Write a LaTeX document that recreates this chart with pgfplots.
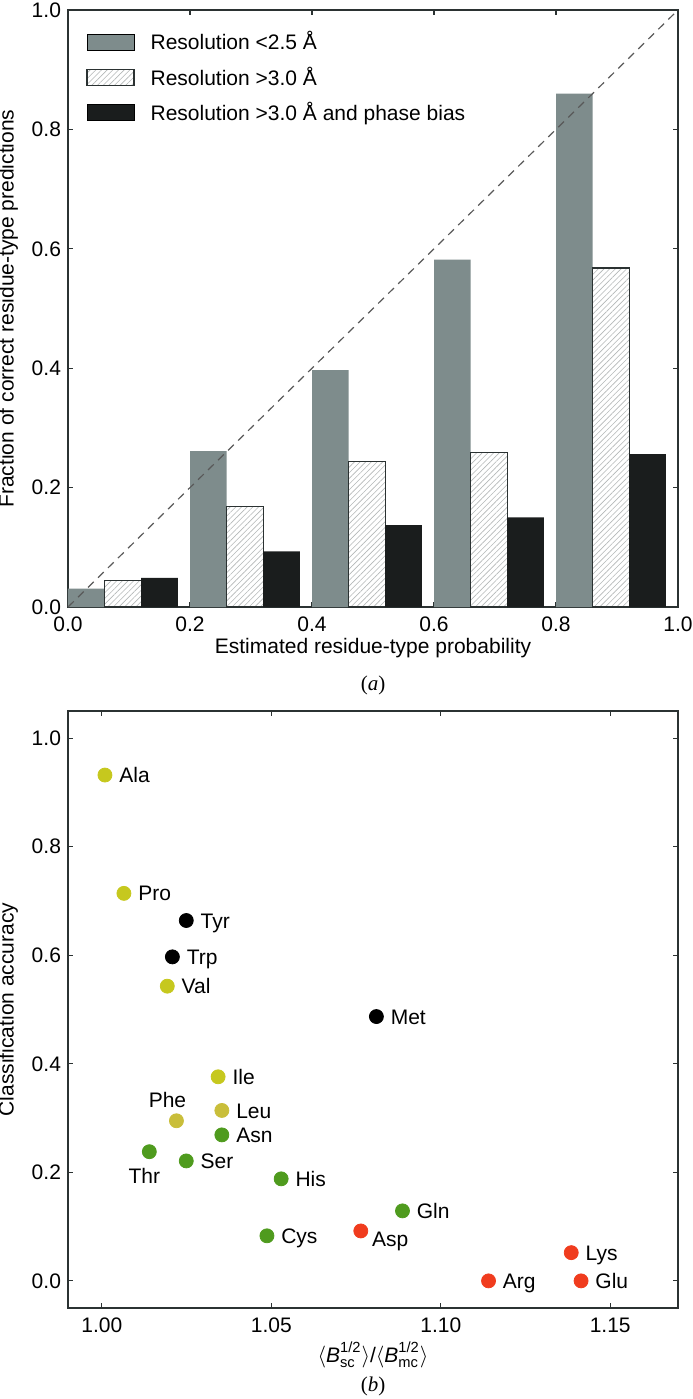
\documentclass[border=0pt]{standalone}
\usepackage{amsmath}
\usepackage{fontspec}
\setmainfont{Liberation Sans}
\newfontfamily\capfont{Liberation Serif}
\usepackage{pgfplots}
\pgfplotsset{compat=1.18}
\usetikzlibrary{patterns.meta}

\definecolor{axisc}{HTML}{2B3232}
\definecolor{barg}{HTML}{7E8C8C}
\definecolor{bark}{HTML}{1A1D1D}
\definecolor{hatch}{HTML}{B4B8B8}
\definecolor{yel}{HTML}{C6C81E}
\definecolor{yel2}{HTML}{C9BE3A}
\definecolor{grn}{HTML}{4F9B1E}
\definecolor{red}{HTML}{F03C1E}

\pgfplotsset{
  panel/.style={
    scale only axis, width=305pt,
    font=\fontsize{10.5}{12.5}\selectfont,
    tick align=inside, major tick length=2.5pt,
    axis line style={draw=axisc, line width=0.8pt},
    tick style={draw=axisc, line width=0.6pt},
    ticklabel style={/pgf/number format/assume math mode=true},
    xticklabel style={yshift=-1.5pt},
    ylabel style={at={(axis description cs:-0.098,0.5)}, anchor=center},
  },
  mybar/.style={ybar, bar width=0.06, bar shift=0pt,
    legend image code/.code={\draw[##1] (0pt,-4pt) rectangle (23.5pt,4pt); \path (30pt,0pt);}},
  res/.style={only marks, mark=*, mark size=3.5pt,
    point meta=explicit symbolic, nodes near coords},
  lab/.style n args={3}{every node near coord/.append style={text=black,
    inner sep=0pt, anchor=#1, xshift=#2, yshift=#3}},
  right lab/.style={lab={base west}{7pt}{-3.8pt}},
}

\begin{document}
\begin{tikzpicture}
\useasboundingbox (0,0) rectangle (346pt,-699.5pt);

\begin{axis}[panel, name=pa, at={(34pt,-5pt)}, anchor=north west,
  height=298.5pt,
  xmin=0, xmax=1, ymin=0, ymax=1,
  xtick={0,0.2,0.4,0.6,0.8,1}, ytick={0,0.2,0.4,0.6,0.8,1},
  xticklabel style={/pgf/number format/.cd, fixed, fixed zerofill, precision=1},
  yticklabel style={/pgf/number format/.cd, fixed, fixed zerofill, precision=1},
  xlabel={Estimated residue-type probability},
  xlabel style={at={(axis description cs:0.5,0)}, anchor=base, yshift=-23pt},
  ylabel={Fraction of correct residue-type predictions},
  legend style={draw=none, fill=none, at={(rel axis cs:0,1)}, anchor=north west,
    xshift=6pt, yshift=-7pt, row sep=4pt,
    nodes={inner sep=1.5pt}, font=\fontsize{10.5}{12.5}\selectfont},
  legend cell align=left,
]
\addplot[mybar, fill=barg, draw=none] coordinates {
  (0.03,0.031) (0.23,0.261) (0.43,0.397) (0.63,0.582) (0.83,0.860)};
\addlegendentry{Resolution <2.5 Å}
\addplot[mybar, fill=white, draw=axisc, line width=0.6pt,
  postaction={pattern={Lines[angle=45,distance=2pt,line width=0.3pt]}, pattern color=hatch}] coordinates {
  (0.09,0.045) (0.29,0.169) (0.49,0.244) (0.69,0.259) (0.89,0.568)};
\addlegendentry{Resolution >3.0 Å}
\addplot[mybar, fill=bark, draw=none] coordinates {
  (0.15,0.049) (0.35,0.093) (0.55,0.137) (0.75,0.150) (0.95,0.256)};
\addlegendentry{Resolution >3.0 Å and phase bias}
\addplot[draw=black!65, line width=0.6pt, dash pattern=on 4pt off 3pt, forget plot]
  coordinates {(0,0) (1,1)};
\end{axis}
\node[font=\capfont\fontsize{10.5}{12.5}\selectfont] at ([yshift=-39pt]pa.south) {(\textit{a})};

\begin{axis}[panel, name=pb, at={(34pt,-355.5pt)}, anchor=north west,
  height=298.5pt,
  xmin=0.99, xmax=1.17, ymin=-0.05, ymax=1.05,
  xtick={1,1.05,1.1,1.15}, ytick={0,0.2,0.4,0.6,0.8,1},
  xticklabel style={/pgf/number format/.cd, fixed, fixed zerofill, precision=2},
  yticklabel style={/pgf/number format/.cd, fixed, fixed zerofill, precision=1},
  xlabel={$\langle\textit{B}^{\text{1/2}}_{\text{sc}}\rangle$/$\langle\textit{B}^{\text{1/2}}_{\text{mc}}\rangle$},
  xlabel style={at={(axis description cs:0.5,0)}, anchor=base, yshift=-27pt},
  ylabel={Classification accuracy},
]
% yellow: Ala Pro Val Ile
\addplot[res, right lab, color=yel] coordinates {
  (1.0009,0.932) [Ala] (1.0065,0.714) [Pro] (1.0193,0.543) [Val] (1.0343,0.376) [Ile]};
\addplot[res, right lab, color=yel2] coordinates {(1.0354,0.314) [Leu]};
\addplot[res, lab={base}{-4.5pt}{6.5pt}, color=yel2] coordinates {(1.0220,0.295) [Phe]};
% black: Tyr Trp Met
\addplot[res, right lab, color=black] coordinates {
  (1.0249,0.664) [Tyr] (1.0208,0.597) [Trp] (1.0810,0.487) [Met]};
% green
\addplot[res, right lab, color=grn] coordinates {
  (1.0354,0.269) [Asn] (1.0249,0.221) [Ser] (1.0529,0.188) [His]
  (1.0887,0.129) [Gln] (1.0487,0.083) [Cys]};
\addplot[res, lab={north}{-2.5pt}{-8pt}, color=grn] coordinates {(1.0140,0.238) [Thr]};
% red
\addplot[res, right lab, color=red] coordinates {
  (1.1385,0.052) [Lys] (1.1141,0.000) [Arg] (1.1414,0.000) [Glu]};
\addplot[res, lab={north west}{5.5pt}{-0.5pt}, color=red] coordinates {(1.0764,0.092) [Asp]};
\end{axis}
\node[font=\capfont\fontsize{10.5}{12.5}\selectfont] at ([yshift=-39pt]pb.south) {(\textit{b})};
\end{tikzpicture}
\end{document}
